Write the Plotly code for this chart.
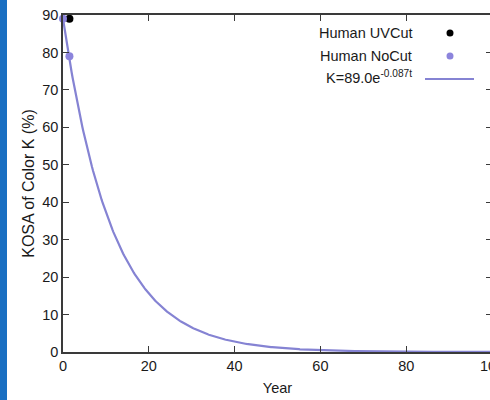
import numpy as np
import plotly.graph_objects as go

# Data
uvcut_year = [1.5]
uvcut_kosa = [89.0]
nocut_year = [0.0, 1.5]
nocut_kosa = [89.0, 79.0]
fit_A = 89.0      # from legend: K = 89.0 e^(-0.087 t)
fit_k = 0.087
fit_years = np.linspace(0, 100, 401)
fit_vals = fit_A * np.exp(-fit_k * fit_years)

x_ticks = [0, 20, 40, 60, 80, 100]
y_ticks = [0, 10, 20, 30, 40, 50, 60, 70, 80, 90]

FONT = "Liberation Sans, Arial, sans-serif"
LINE_COL = "#8583d3"
NOCUT_COL = "#8c84dc"
TXT = "#1a1a1a"
FS = 14.5

W, H = 492, 400
ml, mr, mt, mb = 63, 0, 15, 48
pw, ph = W - ml - mr, H - mt - mb
def px(xp):
    return (xp - ml) / pw
def py(yp_top):
    return (H - yp_top - mb) / ph

fig = go.Figure()
fig.add_trace(go.Scatter(x=fit_years, y=fit_vals, mode="lines",
                         line=dict(color=LINE_COL, width=2.2), showlegend=False))
fig.add_trace(go.Scatter(x=uvcut_year, y=uvcut_kosa, mode="markers",
                         marker=dict(color="black", size=8), showlegend=False, cliponaxis=False))
fig.add_trace(go.Scatter(x=nocut_year, y=nocut_kosa, mode="markers",
                         marker=dict(color=NOCUT_COL, size=8), showlegend=False, cliponaxis=False))

axis_common = dict(showgrid=False, zeroline=False, showline=True, linecolor="#3a3a3a",
                   linewidth=1.5, ticks="inside", ticklen=6, tickcolor="#3a3a3a",
                   mirror="ticks", automargin=False, tickfont=dict(family=FONT, size=FS, color=TXT))

fig.update_xaxes(range=[0, 100], tickvals=x_ticks, ticklabeloverflow="allow",
                 title=dict(text="Year", font=dict(family=FONT, size=FS, color=TXT), standoff=10),
                 **axis_common)
fig.update_yaxes(range=[0, 90], tickvals=y_ticks,
                 title=dict(text="KOSA of Color K (%)", font=dict(family=FONT, size=16, color=TXT), standoff=4),
                 **axis_common)

annotations = [
    dict(x=px(414), y=py(33), xref="paper", yref="paper", text="Human UVCut", showarrow=False,
         xanchor="right", yanchor="middle", font=dict(family=FONT, size=FS, color=TXT)),
    dict(x=px(414), y=py(56), xref="paper", yref="paper", text="Human NoCut", showarrow=False,
         xanchor="right", yanchor="middle", font=dict(family=FONT, size=FS, color=TXT)),
    dict(x=px(414), y=py(77), xref="paper", yref="paper", text="K=89.0e<sup>-0.087t</sup>", showarrow=False,
         xanchor="right", yanchor="middle", font=dict(family=FONT, size=FS, color=TXT)),
]

shapes = [
    dict(type="circle", xref="paper", yref="paper",
         x0=px(446.5), x1=px(453.5), y0=py(36.5), y1=py(29.5),
         fillcolor="black", line=dict(width=0)),
    dict(type="circle", xref="paper", yref="paper",
         x0=px(446.5), x1=px(453.5), y0=py(59.5), y1=py(52.5),
         fillcolor=NOCUT_COL, line=dict(width=0)),
    dict(type="line", xref="paper", yref="paper",
         x0=px(425), x1=px(474), y0=py(79), y1=py(79),
         line=dict(color=LINE_COL, width=2.2)),
    dict(type="rect", xref="paper", yref="paper",
         x0=px(0), x1=px(7), y0=py(405), y1=py(-5),
         fillcolor="#1a6fc2", line=dict(width=0), layer="above"),
]

fig.update_layout(width=W, height=H, margin=dict(l=ml, r=mr, t=mt, b=mb, autoexpand=False),
                  plot_bgcolor="white", paper_bgcolor="white",
                  annotations=annotations, shapes=shapes,
                  font=dict(family=FONT))

fig.write_html("out.html", config={"displayModeBar": False},
               post_script="document.body.style.margin='0';document.body.style.overflow='hidden';")
